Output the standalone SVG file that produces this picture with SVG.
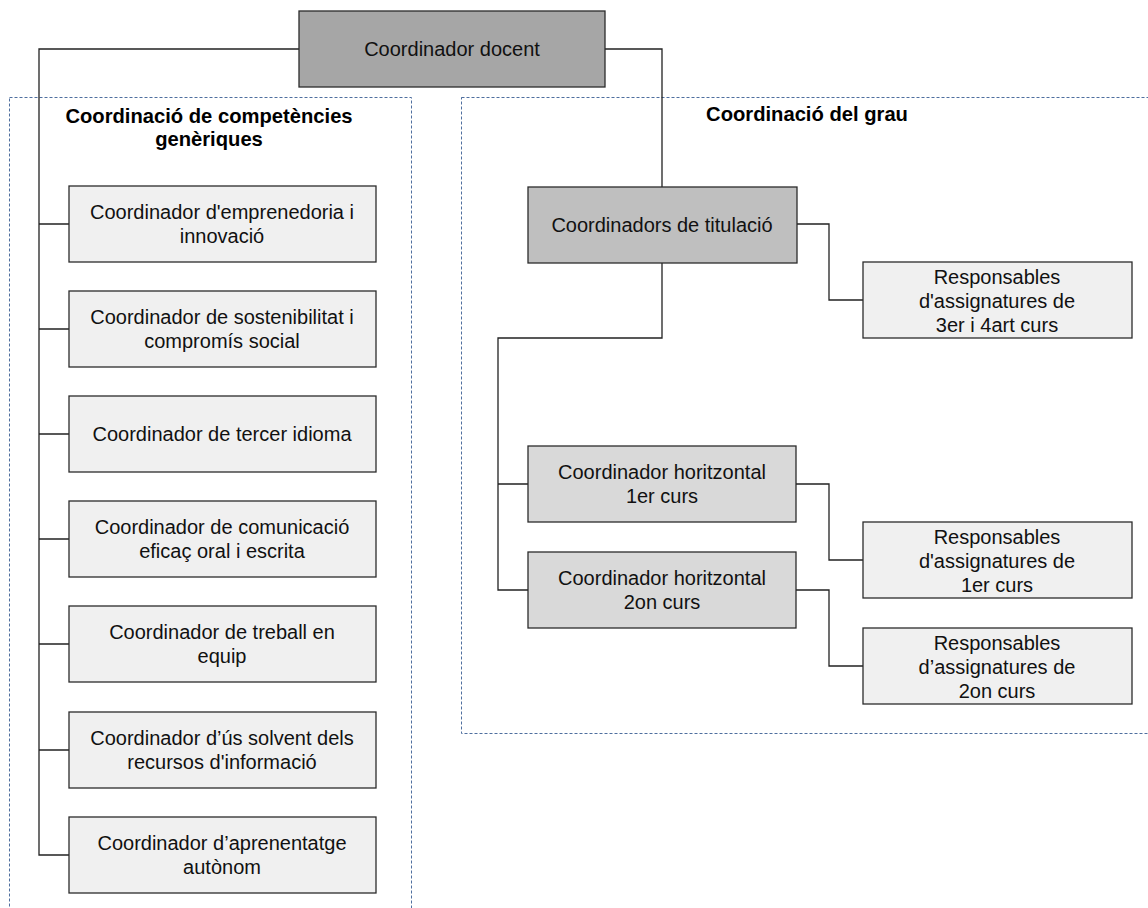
<svg xmlns="http://www.w3.org/2000/svg" width="1148" height="908" viewBox="0 0 1148 908">
<style>
.bg{fill:#ffffff}
.grp{fill:none;stroke:#4f6f9f;stroke-width:1;stroke-dasharray:3 2}
.box{stroke:#2b2b2b;stroke-width:1.3}
.l0{fill:#a6a6a6}
.l1{fill:#bfbfbf}
.l2{fill:#d9d9d9}
.l3{fill:#f0f0f0}
.t{font-family:"Liberation Sans",Arial,sans-serif;font-size:20px;fill:#111;text-anchor:middle}
.h{font-family:"Liberation Sans",Arial,sans-serif;font-size:20.2px;font-weight:bold;fill:#000;text-anchor:middle}
.c{fill:none;stroke:#222;stroke-width:1.3}
</style>
<rect class="bg" x="0" y="0" width="1148" height="908"/>
<g id="group-competencies">
<rect class="grp" x="9.5" y="97.5" width="402" height="830"/>
<text class="h" x="209" y="123">Coordinació de competències</text>
<text class="h" x="209" y="146">genèriques</text>
</g>
<g id="group-grau">
<rect class="grp" x="461.5" y="97.5" width="720" height="636"/>
<text class="h" x="807" y="121">Coordinació del grau</text>
</g>
<g id="connectors">
<path class="c" d="M299,49 H39 V855 H69"/>
<path class="c" d="M39,224 H69 M39,329 H69 M39,434 H69 M39,539 H69 M39,644 H69 M39,750 H69"/>
<path class="c" d="M605,49 H662 V187"/>
<path class="c" d="M797,224 H829 V300 H863"/>
<path class="c" d="M662,263 V338 H498 V590 H528 M498,484 H528"/>
<path class="c" d="M796,484 H829 V560 H863"/>
<path class="c" d="M796,590 H829 V666 H863"/>
</g>
<g id="coordinador-docent">
<rect class="box l0" x="299" y="11" width="306" height="76"/>
<text class="t" x="452" y="56">Coordinador docent</text>
</g>
<g id="emprenedoria">
<rect class="box l3" x="69" y="186" width="307" height="76"/>
<text class="t" x="222" y="219">Coordinador d'emprenedoria i</text>
<text class="t" x="222" y="243">innovació</text>
</g>
<g id="sostenibilitat">
<rect class="box l3" x="69" y="291" width="307" height="76"/>
<text class="t" x="222" y="324">Coordinador de sostenibilitat i</text>
<text class="t" x="222" y="348">compromís social</text>
</g>
<g id="tercer-idioma">
<rect class="box l3" x="69" y="396" width="307" height="76"/>
<text class="t" x="222" y="441">Coordinador de tercer idioma</text>
</g>
<g id="comunicacio">
<rect class="box l3" x="69" y="501" width="307" height="76"/>
<text class="t" x="222" y="534">Coordinador de comunicació</text>
<text class="t" x="222" y="558">eficaç oral i escrita</text>
</g>
<g id="treball-equip">
<rect class="box l3" x="69" y="606" width="307" height="76"/>
<text class="t" x="222" y="639">Coordinador de treball en</text>
<text class="t" x="222" y="663">equip</text>
</g>
<g id="us-solvent">
<rect class="box l3" x="69" y="712" width="307" height="76"/>
<text class="t" x="222" y="745">Coordinador d’ús solvent dels</text>
<text class="t" x="222" y="769">recursos d'informació</text>
</g>
<g id="aprenentatge">
<rect class="box l3" x="69" y="817" width="307" height="76"/>
<text class="t" x="222" y="850">Coordinador d’aprenentatge</text>
<text class="t" x="222" y="874">autònom</text>
</g>
<g id="coordinadors-titulacio">
<rect class="box l1" x="528" y="187" width="269" height="76"/>
<text class="t" x="662" y="232">Coordinadors de titulació</text>
</g>
<g id="resp-3-4">
<rect class="box l3" x="863" y="262" width="269" height="76"/>
<text class="t" x="997" y="283.5">Responsables</text>
<text class="t" x="997" y="308">d'assignatures de</text>
<text class="t" x="997" y="332">3er i 4art curs</text>
</g>
<g id="horitzontal-1">
<rect class="box l2" x="528" y="446" width="268" height="76"/>
<text class="t" x="662" y="479">Coordinador horitzontal</text>
<text class="t" x="662" y="503">1er curs</text>
</g>
<g id="horitzontal-2">
<rect class="box l2" x="528" y="552" width="268" height="76"/>
<text class="t" x="662" y="585">Coordinador horitzontal</text>
<text class="t" x="662" y="609">2on curs</text>
</g>
<g id="resp-1">
<rect class="box l3" x="863" y="522" width="269" height="76"/>
<text class="t" x="997" y="543.5">Responsables</text>
<text class="t" x="997" y="568">d'assignatures de</text>
<text class="t" x="997" y="592">1er curs</text>
</g>
<g id="resp-2">
<rect class="box l3" x="863" y="628" width="269" height="76"/>
<text class="t" x="997" y="649.5">Responsables</text>
<text class="t" x="997" y="674">d’assignatures de</text>
<text class="t" x="997" y="698">2on curs</text>
</g>
</svg>
